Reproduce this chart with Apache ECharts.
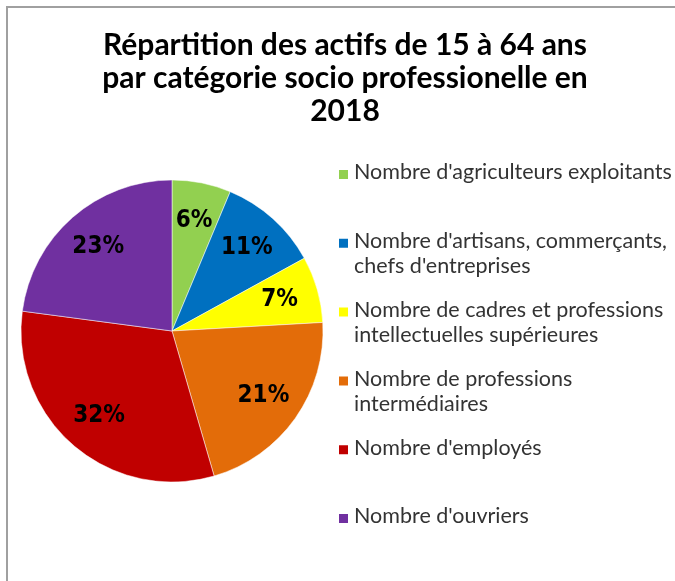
<!DOCTYPE html>
<html>
<head>
<meta charset="utf-8">
<script src="https://cdn.jsdelivr.net/npm/echarts@6/dist/echarts.min.js"></script>
<style>
  html, body { margin: 0; padding: 0; background: #fff; }
  #chart { width: 675px; height: 581px; }
</style>
</head>
<body>
<div id="chart"></div>
<script>
// categories and shares (in %)
var categories = [
    "Nombre d'agriculteurs exploitants",
    "Nombre d'artisans, commerçants,\nchefs d'entreprises",
    "Nombre de cadres et professions\nintellectuelles supérieures",
    "Nombre de professions\nintermédiaires",
    "Nombre d'employés",
    "Nombre d'ouvriers"
];
var shares = [6.3, 10.7, 7.1, 21.4, 31.6, 22.9];
var colors = ['#92D050', '#0070C0', '#FFFF00', '#E36C09', '#C00000', '#7030A0'];
var title = 'Répartition des actifs de 15 à 64 ans\npar catégorie socio professionelle en\n2018';

function plot_pie(target) {
    var canvas = echarts.init(document.getElementById(target));
    var d = [];
    var lbl = [];
    for (var i in categories) {
        d.push({name: categories[i], value: shares[i], itemStyle: {color: colors[i]}});
        lbl.push({name: categories[i], value: shares[i]});
    }

    var option = {
        animation: false,
        title: {
            text: title,
            left: 345,
            textAlign: 'center',
            top: 29,
            padding: 0,
            textStyle: {
                fontFamily: 'Lato',
                fontWeight: 'bold',
                fontSize: 30,
                lineHeight: 33,
                color: '#000'
            }
        },
        legend: {
            orient: 'vertical',
            left: 337,
            top: 159,
            padding: 0,
            itemWidth: 11,
            itemHeight: 50,
            itemGap: 16.8,
            // square in the upper part so it sits beside the first text line
            icon: 'path://M0,9h11v11h-11zM0,0M11,50',
            textStyle: {
                fontFamily: 'Lato',
                fontSize: 21.5,
                lineHeight: 25,
                color: '#333'
            },
            formatter: function (name) {
                return name.indexOf('\n') < 0 ? name + '\n ' : name;
            },
            data: categories
        },
        graphic: [{
            type: 'rect',
            shape: {x: 7, y: 7, width: 720, height: 620},
            style: {fill: 'none', stroke: '#a0a0a0', lineWidth: 2},
            silent: true
        }],
        series: [
            {
                name: 'Actifs',
                type: 'pie',
                center: [172, 331],
                radius: [0, 151],
                startAngle: 90,
                clockwise: true,
                label: {show: false},
                labelLine: {show: false},
                itemStyle: {borderColor: '#fff', borderWidth: 0.5},
                data: d
            },
            {
                name: 'labels',
                type: 'pie',
                center: [172, 331],
                radius: [68, 150],
                startAngle: 90,
                clockwise: true,
                silent: true,
                itemStyle: {color: 'rgba(0,0,0,0)'},
                label: {
                    show: true,
                    position: 'inside',
                    fontFamily: '"DejaVu Sans Condensed", "DejaVu Sans"',
                    fontWeight: 'bold',
                    fontSize: 24,
                    color: '#000',
                    formatter: function (p) { return Math.round(p.percent) + '%'; }
                },
                labelLine: {show: false},
                data: lbl
            }
        ]
    };
    canvas.setOption(option);
}

plot_pie('chart');
</script>
</body>
</html>
